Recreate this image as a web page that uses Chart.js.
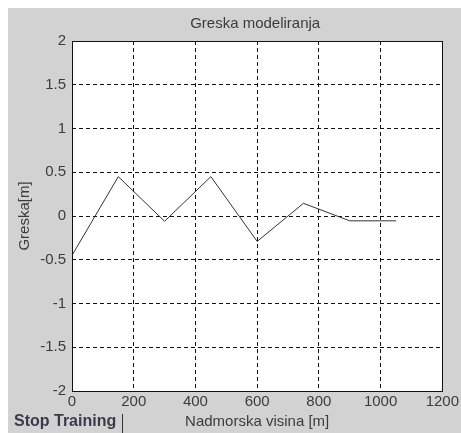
<!DOCTYPE html>
<html>
<head>
<meta charset="utf-8">
<script src="https://cdn.jsdelivr.net/npm/chart.js@4/dist/chart.umd.min.js"></script>
<style>
  html, body { margin: 0; padding: 0; background: #ffffff; }
  #wrap { position: relative; width: 461px; height: 433px; overflow: hidden; }
  #bg { position: absolute; left: 8px; top: 8px; right: 0; bottom: 0; background: #d2d2d2; }
  canvas { position: absolute; left: 0; top: 0; }
  #stop { position: absolute; left: 14px; top: 412px; font: bold 16px "Liberation Sans", Arial, sans-serif; color: #3a3a4a; }
  #bar { position: absolute; left: 122px; top: 414px; width: 1px; height: 19px; background: #333; }
</style>
</head>
<body>
<div id="wrap">
  <div id="bg"></div>
  <canvas id="c" width="461" height="433"></canvas>
  <div id="stop">Stop Training</div>
  <div id="bar"></div>
</div>
<script>
const chartTitle = "Greska modeliranja";
const xTitle = "Nadmorska visina [m]";
const yTitle = "Greska[m]";
const xValues = [0, 150, 300, 450, 600, 750, 900, 1050];
const yValues = [-0.45, 0.45, -0.06, 0.45, -0.29, 0.145, -0.055, -0.055];
const xTicks = [0, 200, 400, 600, 800, 1000, 1200];
const yTicks = [-2, -1.5, -1, -0.5, 0, 0.5, 1, 1.5, 2];

const textColor = '#3c3c3c';
const fontFam = '"Liberation Sans", Arial, sans-serif';

const framePlugin = {
  id: 'frame',
  beforeDraw(chart) {
    const {ctx, chartArea: a} = chart;
    ctx.save();
    ctx.fillStyle = '#ffffff';
    ctx.fillRect(a.left, a.top, a.right - a.left, a.bottom - a.top);
    ctx.restore();
  },
  afterDraw(chart) {
    const {ctx, chartArea: a} = chart;
    ctx.save();
    ctx.strokeStyle = '#111111';
    ctx.lineWidth = 1;
    ctx.setLineDash([]);
    ctx.strokeRect(Math.round(a.left) + 0.5, Math.round(a.top) + 0.5,
                   Math.round(a.right - a.left), Math.round(a.bottom - a.top));
    ctx.fillStyle = textColor;
    ctx.font = '15px ' + fontFam;
    ctx.textAlign = 'center';
    ctx.textBaseline = 'middle';
    ctx.fillText(chartTitle, (a.left + a.right) / 2 - 2, 24);
    ctx.restore();
  }
};

new Chart(document.getElementById('c'), {
  type: 'line',
  data: {
    datasets: [{
      data: xValues.map((x, i) => ({x: x, y: yValues[i]})),
      borderColor: '#333333',
      borderWidth: 1,
      pointRadius: 0,
      tension: 0,
      fill: false
    }]
  },
  options: {
    responsive: false,
    animation: false,
    devicePixelRatio: 1,
    layout: { padding: { top: 41, right: 16, left: 0, bottom: 0 } },
    plugins: { legend: { display: false }, tooltip: { enabled: false }, title: { display: false } },
    scales: {
      x: {
        type: 'linear',
        min: 0, max: 1200,
        afterBuildTicks(s) { s.ticks = xTicks.map(v => ({value: v})); },
        afterFit(s) { s.height = 42; },
        grid: { color: '#111111', lineWidth: 1, drawTicks: false },
        border: { display: false, dash: [4, 3] },
        ticks: { color: textColor, font: { size: 15, family: fontFam }, padding: 2, maxRotation: 0, autoSkip: false,
                 callback: v => String(v) },
        title: { display: true, text: xTitle, color: textColor, font: { size: 15, family: fontFam }, padding: { top: 0, bottom: 2 } }
      },
      y: {
        type: 'linear',
        min: -2, max: 2,
        afterBuildTicks(s) { s.ticks = yTicks.map(v => ({value: v})); },
        afterFit(s) { s.width = 72; },
        grid: { color: '#111111', lineWidth: 1, drawTicks: false },
        border: { display: false, dash: [4, 3] },
        ticks: { color: textColor, font: { size: 15, family: fontFam }, padding: 6, autoSkip: false,
                 callback: v => String(v) },
        title: { display: true, text: yTitle, color: textColor, font: { size: 15, family: fontFam }, padding: { top: 16, bottom: 0 } }
      }
    }
  },
  plugins: [framePlugin]
});
</script>
</body>
</html>
